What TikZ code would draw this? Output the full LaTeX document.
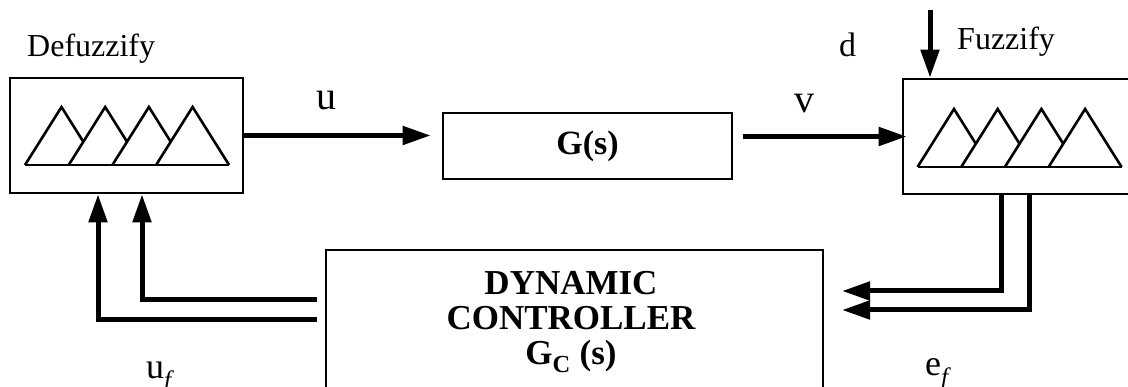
\documentclass[tikz,border=0pt]{standalone}
\usepackage{fontspec}
\setmainfont{Liberation Serif}
\usetikzlibrary{arrows.meta}
\tikzset{
  blk/.style={draw,line width=2.6pt,inner sep=0pt},
  mfline/.style={line width=2.6pt},
  sig/.style={line width=5pt,-{Triangle[length=28pt,width=18pt]}},
  lbl/.style={inner sep=0pt,anchor=base west,font=\fontsize{36}{40}\selectfont},
  tag/.style={inner sep=0pt,anchor=base west,font=\fontsize{32}{36}\selectfont},
}
% four overlapping triangles, #1,#2 = left end of the base line
\newcommand{\mfsets}[2]{%
\begin{scope}[shift={(#1,#2)}]
\pgfmathsetmacro{\s}{43.7}
\pgfmathsetmacro{\h}{36.5}
\draw[mfline] (0,0)--(3*\s+2*\h,0);
\foreach \k in {0,1,2}
  \draw[mfline] (\k*\s,0)--(\k*\s+\h,-58)--(\k*\s+\h+\s/2,-23.2);
\draw[mfline] (3*\s,0)--(3*\s+\h,-58)--(3*\s+2*\h,0);
\end{scope}}
\begin{document}
\begin{tikzpicture}[x=1pt,y=-1pt]
\useasboundingbox (0,0) rectangle (1128,387);
\clip (0,0) rectangle (1128,387);
\node[blk,minimum width=233pt,minimum height=115pt] (defz) at (126.5,135.5) {};
\node[blk,minimum width=289pt,minimum height=66pt,font=\bfseries\fontsize{34}{38}\selectfont] (gs) at (587.5,146) {G(s)};
\node[blk,minimum width=237pt,minimum height=115pt] (fuzz) at (1021.5,136.5) {};
\node[blk,line width=2pt,minimum width=497pt,minimum height=150pt] (ctrl) at (574.5,325) {};
\node[align=center,inner sep=0pt,font=\bfseries\fontsize{35}{35}\selectfont] (ctrltxt) at (571,322)
  {DYNAMIC\\CONTROLLER\\G\textsubscript{C} (s)};
\mfsets{25}{165}
\mfsets{917.5}{167}
\node[tag] (deflbl) at (27,57) {Defuzzify};
\node[tag] (fuzlbl) at (957,50) {Fuzzify};
\node[lbl,font=\fontsize{40}{44}\selectfont] (ulbl) at (316,110) {u};
\node[lbl,font=\fontsize{40}{44}\selectfont] (vlbl) at (794,113) {v};
\node[lbl,font=\fontsize{34}{40}\selectfont] (dlbl) at (839,57) {d};
\node[lbl] (uflbl) at (146,379) {u\textsubscript{\itshape f}};
\node[lbl] (eflbl) at (925,376) {e\textsubscript{\itshape f}};
\draw[sig,shorten >=11pt] (defz.east) -- (defz.east -| gs.west);
\draw[sig,shorten <=10pt,shorten >=-5pt] (fuzz.west -| gs.east) -- (fuzz.west);
\coordinate (dtop) at (930,10);
\draw[sig] (dtop) -- (dtop |- fuzz.north);
\coordinate (eIn1) at (842,291);
\coordinate (eIn2) at (842,310);
\draw[sig] ([xshift=-20.5pt]fuzz.south) |- (eIn1);
\draw[sig] ([xshift=7.5pt]fuzz.south) |- (eIn2);
\coordinate (uOut1) at (317,300);
\coordinate (uOut2) at (317,320);
\draw[sig] (uOut1) -| ([xshift=15.5pt]defz.south);
\draw[sig] (uOut2) -| ([xshift=-28.5pt]defz.south);
\end{tikzpicture}
\end{document}
